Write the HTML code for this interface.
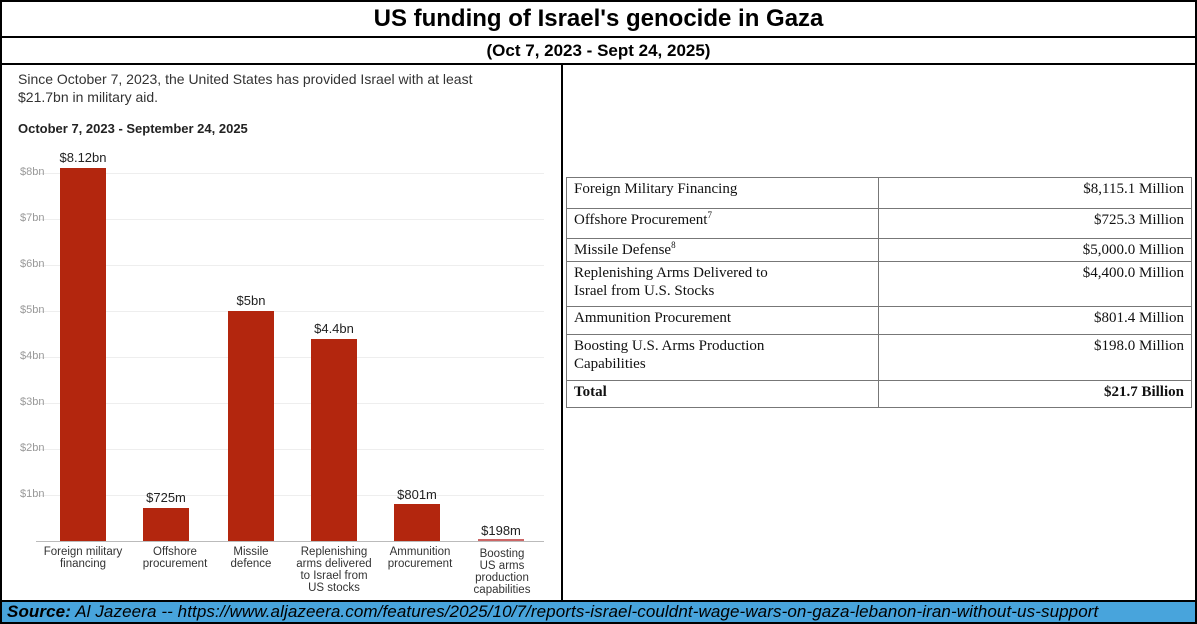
<!DOCTYPE html>
<html><head><meta charset="utf-8"><style>
*{margin:0;padding:0;box-sizing:border-box}
body{width:1197px;height:624px;background:#fff;position:relative;overflow:hidden;font-family:"Liberation Sans",sans-serif}
.a{position:absolute}
.t{font-weight:bold;text-align:center;width:1197px;color:#000}
.yl{position:absolute;left:20px;font-size:11px;color:#999}
.gl{position:absolute;left:36px;width:508px;height:1px;background:#eee}
.bar{position:absolute;background:#b3260e;width:46px}
.vl{position:absolute;font-size:13px;color:#222;text-align:center;width:80px}
.cl{position:absolute;font-size:11.5px;color:#333;text-align:center;width:100px;line-height:12px;top:546px;white-space:nowrap}
table{position:absolute;left:566px;top:177px;width:626px;border-collapse:collapse;font-family:"Liberation Serif",serif;font-size:15px;color:#111}
td{border:1px solid #777;padding:2px 7px;vertical-align:top;line-height:18px}
td.r{text-align:right}
sup{font-size:9px;line-height:0;vertical-align:6px}
</style></head><body>
<div class="a" style="left:0;top:0;width:1197px;height:624px;border:2px solid #000"></div>
<div class="a t" style="top:5px;font-size:24px">US funding of Israel's genocide in Gaza</div>
<div class="a" style="left:0;top:36px;width:1197px;height:2px;background:#000"></div>
<div class="a t" style="top:41px;font-size:17px">(Oct 7, 2023 - Sept 24, 2025)</div>
<div class="a" style="left:0;top:63px;width:1197px;height:2px;background:#000"></div>
<div class="a" style="left:561px;top:64px;width:2px;height:537px;background:#000"></div>
<div class="a" style="left:18px;top:70px;font-size:14px;color:#333;line-height:18px">Since October 7, 2023, the United States has provided Israel with at least<br>$21.7bn in military aid.</div>
<div class="a" style="left:18px;top:121px;font-size:13px;font-weight:bold;color:#222">October 7, 2023 - September 24, 2025</div>
<div class="gl" style="top:173px"></div><div class="yl" style="top:166px">$8bn</div>
<div class="gl" style="top:219px"></div><div class="yl" style="top:212px">$7bn</div>
<div class="gl" style="top:265px"></div><div class="yl" style="top:258px">$6bn</div>
<div class="gl" style="top:311px"></div><div class="yl" style="top:304px">$5bn</div>
<div class="gl" style="top:357px"></div><div class="yl" style="top:350px">$4bn</div>
<div class="gl" style="top:403px"></div><div class="yl" style="top:396px">$3bn</div>
<div class="gl" style="top:449px"></div><div class="yl" style="top:442px">$2bn</div>
<div class="gl" style="top:495px"></div><div class="yl" style="top:488px">$1bn</div>
<div class="a" style="left:36px;top:541px;width:508px;height:1px;background:#bbb"></div>
<div class="bar" style="left:60px;top:168px;height:373px"></div><div class="vl" style="left:43px;top:150px">$8.12bn</div>
<div class="bar" style="left:143px;top:508px;height:33px"></div><div class="vl" style="left:126px;top:490px">$725m</div>
<div class="bar" style="left:228px;top:311px;height:230px"></div><div class="vl" style="left:211px;top:293px">$5bn</div>
<div class="bar" style="left:311px;top:339px;height:202px"></div><div class="vl" style="left:294px;top:321px">$4.4bn</div>
<div class="bar" style="left:394px;top:504px;height:37px"></div><div class="vl" style="left:377px;top:487px">$801m</div>
<div class="bar" style="left:478px;top:539px;height:2px;background:#c66"></div><div class="vl" style="left:461px;top:523px">$198m</div>
<div class="cl" style="left:33px">Foreign military<br>financing</div>
<div class="cl" style="left:125px">Offshore<br>procurement</div>
<div class="cl" style="left:201px">Missile<br>defence</div>
<div class="cl" style="left:284px">Replenishing<br>arms delivered<br>to Israel from<br>US stocks</div>
<div class="cl" style="left:370px">Ammunition<br>procurement</div>
<div class="cl" style="left:452px;top:548px">Boosting<br>US arms<br>production<br>capabilities</div>
<table>
<tr style="height:31px"><td style="width:312px">Foreign Military Financing</td><td class="r">$8,115.1 Million</td></tr>
<tr style="height:30px"><td>Offshore Procurement<sup>7</sup></td><td class="r">$725.3 Million</td></tr>
<tr style="height:23px"><td>Missile Defense<sup>8</sup></td><td class="r">$5,000.0 Million</td></tr>
<tr style="height:45px"><td>Replenishing Arms Delivered to<br>Israel from U.S. Stocks</td><td class="r">$4,400.0 Million</td></tr>
<tr style="height:28px"><td>Ammunition Procurement</td><td class="r">$801.4 Million</td></tr>
<tr style="height:46px"><td>Boosting U.S. Arms Production<br>Capabilities</td><td class="r">$198.0 Million</td></tr>
<tr style="height:27px"><td><b>Total</b></td><td class="r"><b>$21.7 Billion</b></td></tr>
</table>
<div class="a" style="left:0;top:600px;width:1197px;height:2px;background:#000"></div>
<div class="a" style="left:2px;top:602px;width:1193px;height:20px;background:#48a4dc"></div>
<div class="a" style="left:7px;top:602px;font-size:17px;letter-spacing:0.1px;font-style:italic;color:#000;white-space:nowrap"><b>Source:</b> Al Jazeera -- https://www.aljazeera.com/features/2025/10/7/reports-israel-couldnt-wage-wars-on-gaza-lebanon-iran-without-us-support</div>
</body></html>
